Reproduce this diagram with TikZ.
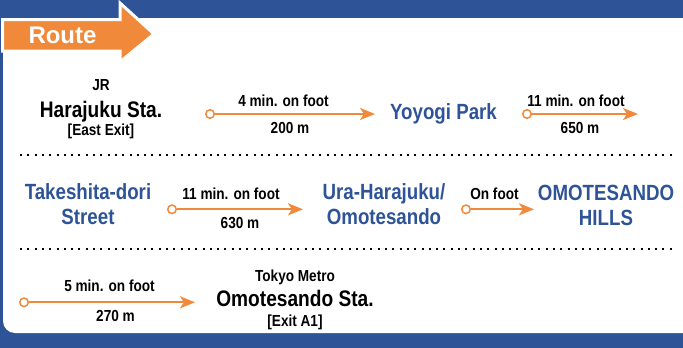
\documentclass[tikz,border=0pt]{standalone}
\usepackage{fontspec}
\setmainfont[FakeStretch=0.85]{Liberation Sans}
\newfontfamily\routefont{Liberation Sans}
\usepackage{tikz}
\usetikzlibrary{arrows.meta}
\definecolor{routeblue}{RGB}{46,84,151}
\definecolor{routeorange}{RGB}{240,137,58}
\tikzset{
  place/.style={text=routeblue,font=\fontsize{22}{25}\selectfont\bfseries,align=center,inner sep=0pt},
  station/.style={font=\fontsize{22.5}{25}\selectfont\bfseries,inner sep=0pt,anchor=base},
  small/.style={font=\fontsize{16}{18}\selectfont\bfseries,inner sep=0pt,anchor=base},
  walk/.style={draw=routeorange,line width=2pt,-{Stealth[length=15pt,width=12pt,inset=4pt]}},
  start/.style={circle,draw=routeorange,fill=white,line width=1.5pt,minimum size=8.5pt,inner sep=0pt},
  sep/.style={line width=2pt,dash pattern=on 2pt off 5.3pt}
}

\begin{document}
\begin{tikzpicture}[x=1pt,y=-1pt]
          \useasboundingbox (0,0) rectangle (683,348);
          \fill[routeblue] (0,0) rectangle (683,348);
          \fill[white,rounded corners=12pt] (3,18) rectangle (700,333);
          \filldraw[fill=routeorange,draw=white,line width=3pt,line join=miter]
            (2.5,19.5) -- (120,19.5) -- (120,3) -- (154,34) -- (120,62) -- (120,51) -- (2.5,51) -- cycle;
          \node[anchor=base,inner sep=0pt,text=white,font=\routefont\fontsize{24}{24}\selectfont\bfseries] (route) at (62.5,43){Route};

          \node[small] (jr) at (101,90.7){JR};
          \node[station] (harajuku) at (101,117){Harajuku Sta.};
          \node[small] (eastexit) at (101,135){[East Exit]};
          \node[start] (s1) at (210,114){};
          \coordinate (e1) at (375,114);
          \draw[walk] (s1) -- (e1);
          \node[small] (t1) at (283.5,106){4 min. on foot};
          \node[small] (d1) at (290,133){200 m};
          \node[place,anchor=base] (yoyogi) at (443.5,119){Yoyogi Park};
          \node[start] (s2) at (527,114){};
          \coordinate (e2) at (638,114);
          \draw[walk] (s2) -- (e2);
          \node[small] (t2) at (576,106){11 min. on foot};
          \node[small] (d2) at (580,133){650 m};

          \draw[sep] (20,155) -- (672,155);

          \node[place,anchor=base] (takeshita) at (88,224){Takeshita-dori\\Street};
          \node[start] (s3) at (172,209.3){};
          \coordinate (e3) at (303,209.3);
          \draw[walk] (s3) -- (e3);
          \node[small] (t3) at (231,199){11 min. on foot};
          \node[small] (d3) at (240,228){630 m};
          \node[place,anchor=base] (ura) at (384,224){Ura-Harajuku/\\Omotesando};
          \node[start] (s4) at (466,209.3){};
          \coordinate (e4) at (534,209.3);
          \draw[walk] (s4) -- (e4);
          \node[small] (t4) at (494.5,199){On foot};
          \node[place,anchor=base] (hills) at (606,225){OMOTESANDO\\HILLS};

          \draw[sep] (20,249) -- (672,249);

          \node[start] (s5) at (24,302.3){};
          \coordinate (e5) at (195,302.3);
          \draw[walk] (s5) -- (e5);
          \node[small] (t5) at (109.5,291.5){5 min. on foot};
          \node[small] (d5) at (115.5,321.7){270 m};
          \node[small] (metro) at (295,281.5){Tokyo Metro};
          \node[station] (omotesando) at (295,306){Omotesando Sta.};
          \node[small] (exita1) at (295,326){[Exit A1]};
        \end{tikzpicture}
\end{document}
